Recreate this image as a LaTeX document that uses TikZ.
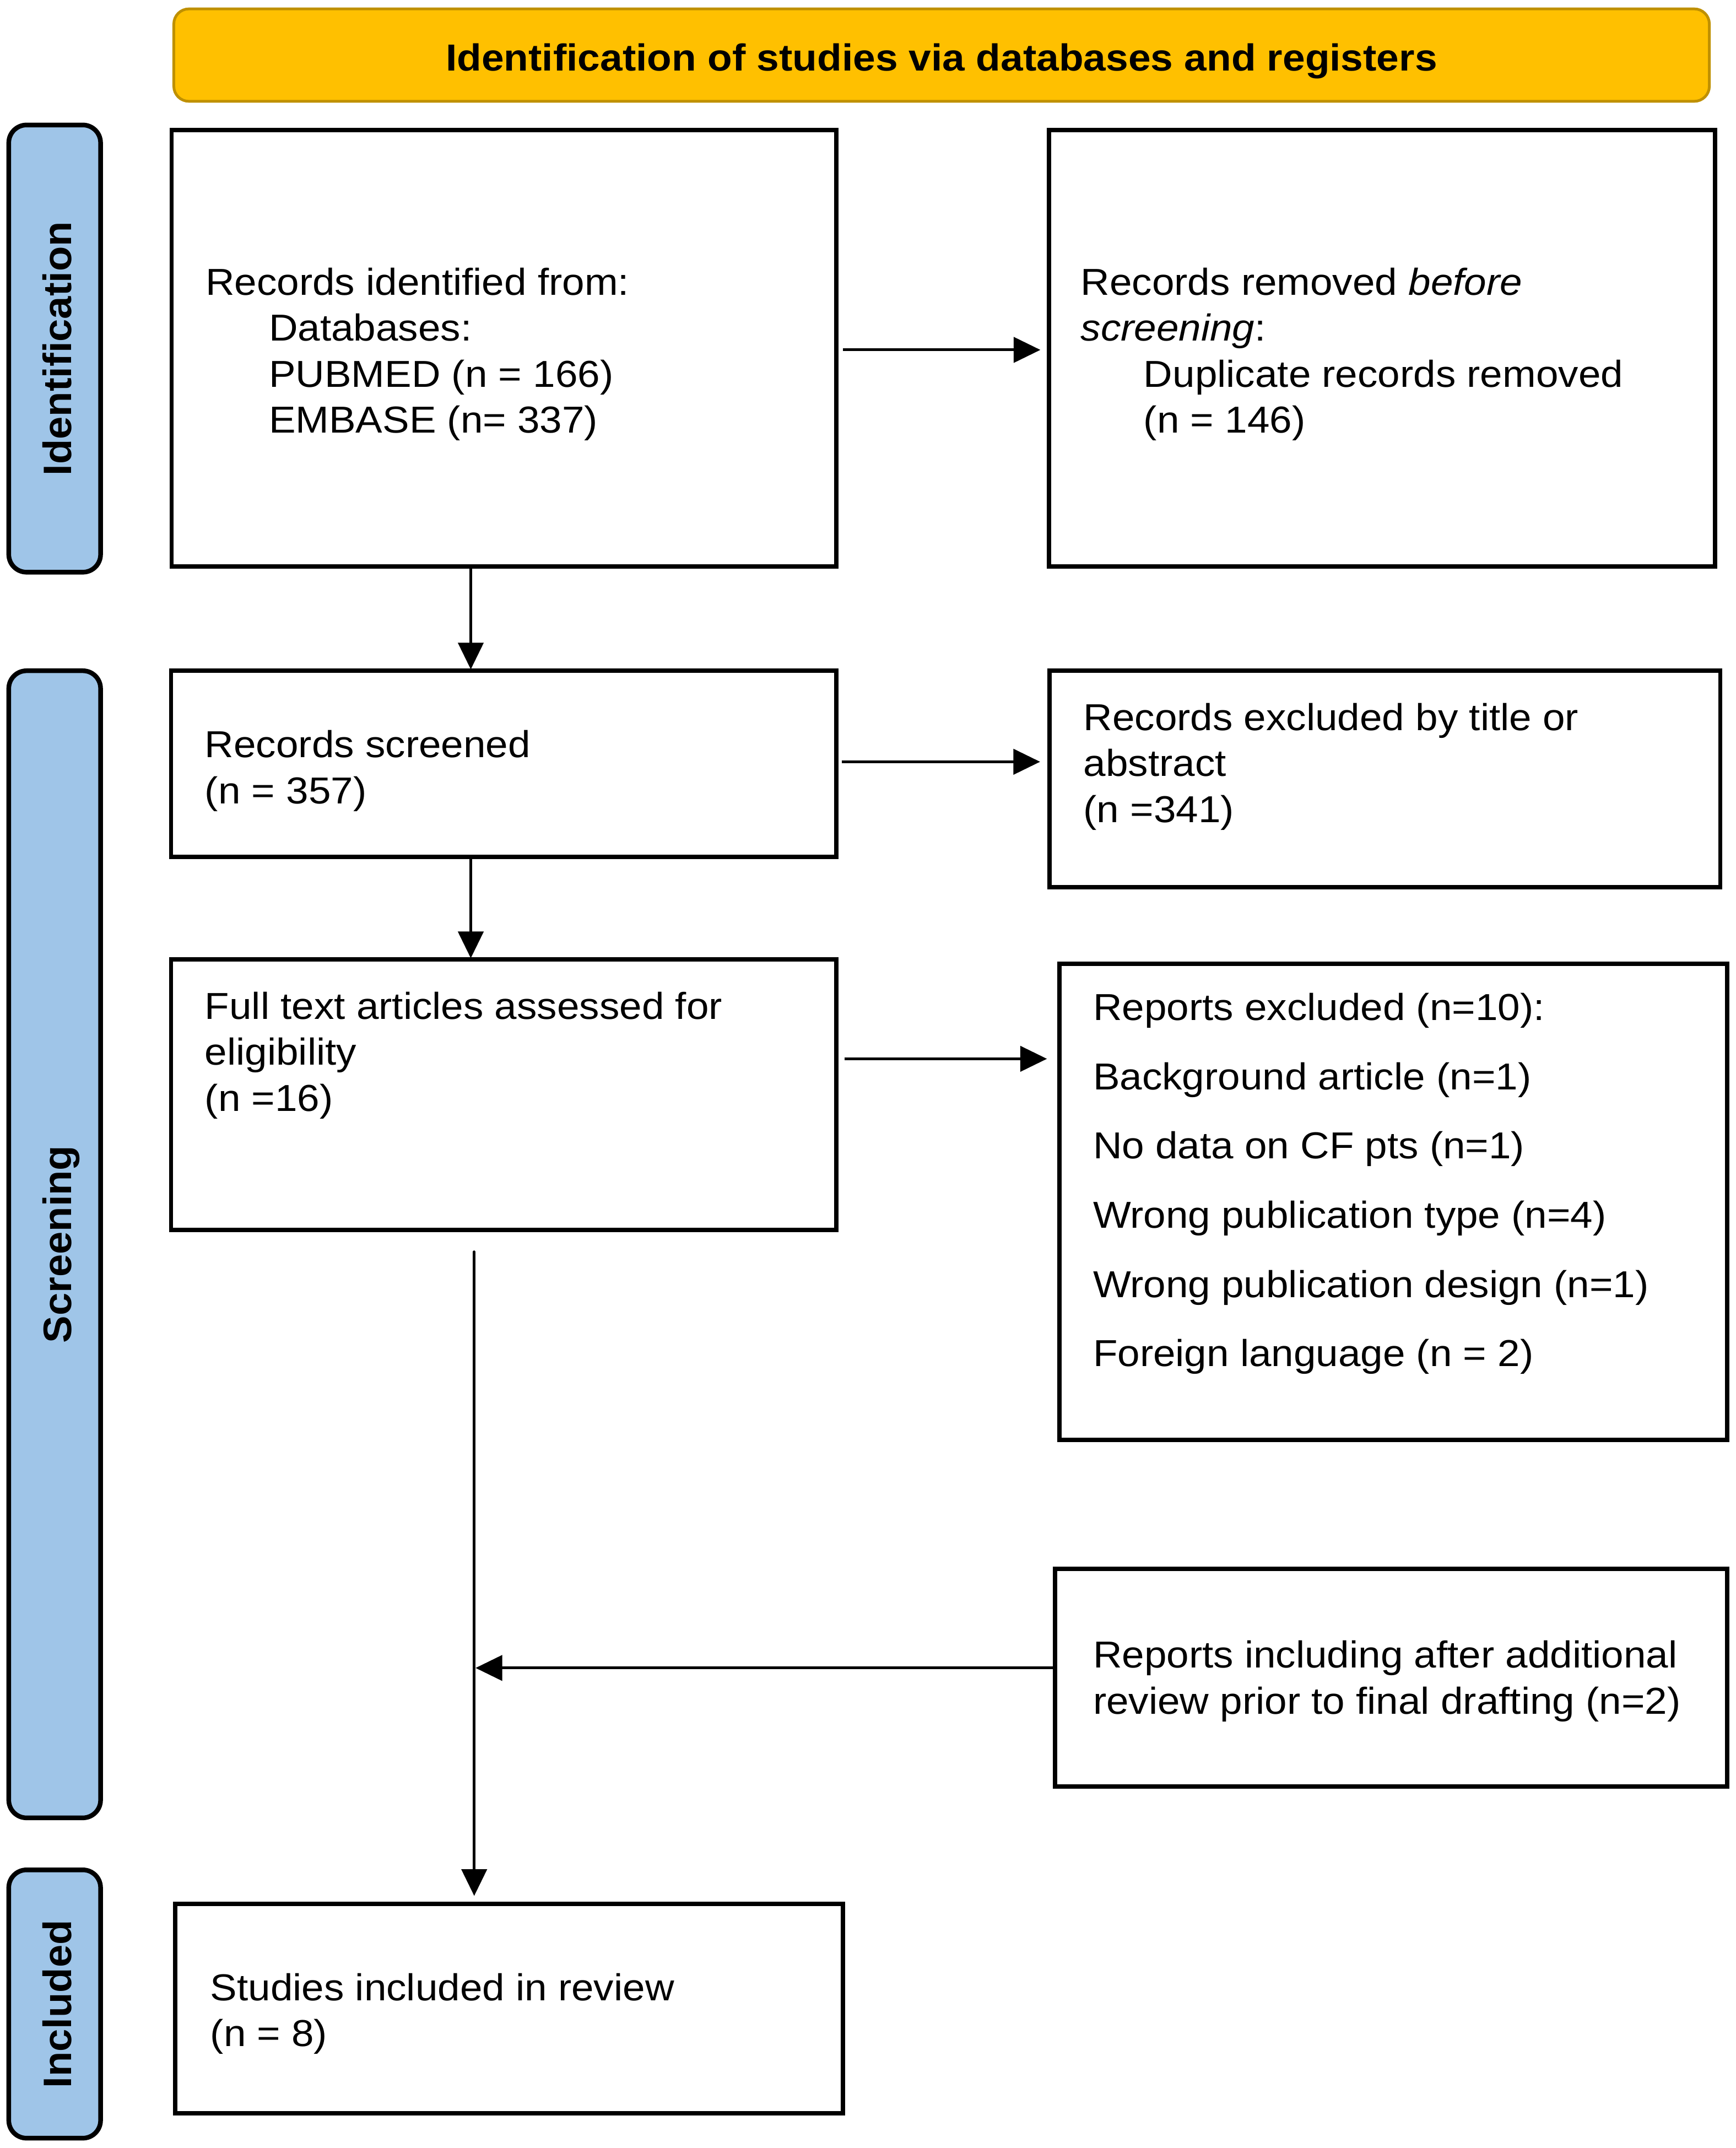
\documentclass[tikz,border=0pt]{standalone}
\usepackage{fontspec}
\setmainfont{Liberation Sans}[FakeStretch=1.07]
\newfontfamily\sidefont{Liberation Sans}[FakeStretch=1.03]
\usetikzlibrary{arrows.meta}
\definecolor{headfill}{HTML}{FFC000}
\definecolor{headdraw}{HTML}{BF9000}
\definecolor{sidefill}{HTML}{9FC5E8}
\begin{document}
\begin{tikzpicture}[x=1pt,y=-1pt,
  box/.style={draw=black, line width=3.2pt, fill=white, inner sep=0pt, outer sep=0pt, anchor=north west},
  side/.style={draw=black, line width=3.4pt, fill=sidefill, rounded corners=13pt, inner sep=0pt, outer sep=0pt, anchor=north west, minimum width=67.1pt},
  head/.style={draw=headdraw, line width=2pt, fill=headfill, rounded corners=11pt, inner sep=0pt, outer sep=0pt, anchor=north west},
  txt/.style={anchor=base west, inner sep=0pt, font=\fontsize{27.4}{33.6}\selectfont},
  sidelbl/.style={rotate=90, anchor=base, inner sep=0pt, font=\sidefont\bfseries\fontsize{29}{33}\selectfont},
  arr/.style={line width=2pt, -{Triangle[length=19.5pt,width=18.5pt]}}
]
\useasboundingbox (0,0) rectangle (1268.1,1569.2);

% header
\node[head, minimum width=1122pt, minimum height=67.5pt] (hd) at (127,6.5) {};
\node[anchor=base, inner sep=0pt, font=\bfseries\fontsize{27.5}{33}\selectfont] (ht) at (688,51.7) {Identification of studies via databases and registers};

% side labels
\node[side, minimum height=326.7pt] (sI) at (6.4,91.3) {};
\node[side, minimum height=838pt] (sS) at (6.4,490) {};
\node[side, minimum height=196pt] (sN) at (6.4,1366) {};
\node[sidelbl] (lI) at (52,254.7) {Identification};
\node[sidelbl] (lS) at (52,909) {Screening};
\node[sidelbl] (lN) at (52,1464) {Included};

% boxes
\node[box, minimum width=485.6pt, minimum height=319pt] (b1) at (125.4,95) {};
\node[box, minimum width=486.5pt, minimum height=319pt] (b2) at (766.5,95) {};
\node[box, minimum width=486pt, minimum height=136pt] (b3) at (125,490) {};
\node[box, minimum width=490pt, minimum height=158pt] (b4) at (767,490) {};
\node[box, minimum width=486pt, minimum height=197.4pt] (b5) at (125,701) {};
\node[box, minimum width=488pt, minimum height=348pt] (b6) at (774,704) {};
\node[box, minimum width=491pt, minimum height=159pt] (b7) at (771,1146) {};
\node[box, minimum width=488pt, minimum height=153pt] (b8) at (128,1391) {};

% texts
\node[txt] (t1a) at (150,215.4) {Records identified from:};
\node[txt] (t1b) at (196.3,249) {Databases:};
\node[txt] (t1c) at (196.3,282.6) {PUBMED (n = 166)};
\node[txt] (t1d) at (196.3,316.2) {EMBASE (n= 337)};

\node[txt] (t2a) at (789.5,215.4) {Records removed \textit{before}};
\node[txt] (t2b) at (789.5,249) {\textit{screening}:};
\node[txt] (t2c) at (835.5,282.6) {Duplicate records removed};
\node[txt] (t2d) at (835.5,316.2) {(n = 146)};

\node[txt] (t3a) at (149.5,553.5) {Records screened};
\node[txt] (t3b) at (149.5,587) {(n = 357)};

\node[txt] (t4a) at (791.5,533.5) {Records excluded by title or};
\node[txt] (t4b) at (791.5,567) {abstract};
\node[txt] (t4c) at (791.5,600.7) {(n =341)};

\node[txt] (t5a) at (149.5,744.5) {Full text articles assessed for};
\node[txt] (t5b) at (149.5,778) {eligibility};
\node[txt] (t5c) at (149.5,811.7) {(n =16)};

\node[txt] (t6a) at (798.5,745.3) {Reports excluded (n=10):};
\node[txt] (t6b) at (798.5,795.9) {Background article (n=1)};
\node[txt] (t6c) at (798.5,846.5) {No data on CF pts (n=1)};
\node[txt] (t6d) at (798.5,897.1) {Wrong publication type (n=4)};
\node[txt] (t6e) at (798.5,947.7) {Wrong publication design (n=1)};
\node[txt] (t6f) at (798.5,998.3) {Foreign language (n = 2)};

\node[txt] (t7a) at (798.5,1218.5) {Reports including after additional};
\node[txt] (t7b) at (798.5,1252) {review prior to final drafting (n=2)};

\node[txt] (t8a) at (153.5,1461.5) {Studies included in review};
\node[txt] (t8b) at (153.5,1495) {(n = 8)};

% connectors
\coordinate (ax) at (344,0);
\coordinate (ay1) at (0,255.6);
\coordinate (ay2) at (0,556.5);
\coordinate (ay3) at (0,773.5);
\coordinate (ay4) at (0,1218.5);
\coordinate (vtop) at (346.5,914.5);

\draw[arr, shorten <=5pt, shorten >=6.3pt] (b1.east |- ay1) -- (b2.west |- ay1);
\draw[arr, shorten >=1pt] (b1.south -| ax) -- (b3.north -| ax);
\draw[arr, shorten <=4pt, shorten >=7pt] (b3.east |- ay2) -- (b4.west |- ay2);
\draw[arr, shorten >=1pt] (b3.south -| ax) -- (b5.north -| ax);
\draw[arr, shorten <=6pt, shorten >=9pt] (b5.east |- ay3) -- (b6.west |- ay3);
\draw[arr, line cap=round, shorten >=6pt] (vtop) -- (b8.north -| vtop);
\draw[arr, shorten >=1pt] (b7.west |- ay4) -- (vtop |- ay4);
\end{tikzpicture}
\end{document}
